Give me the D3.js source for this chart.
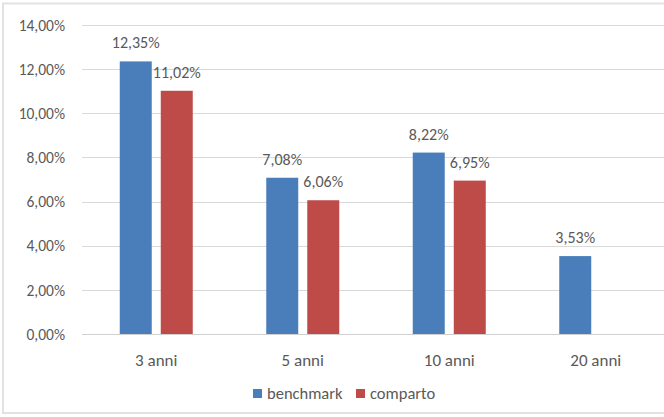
<!DOCTYPE html>
<html>
<head>
<meta charset="utf-8">
<script src="https://cdn.jsdelivr.net/npm/d3@7"></script>
<style>
  html, body { margin: 0; padding: 0; background: #fff; }
  svg { display: block; }
  text { font-family: Carlito, Lato, "Liberation Sans", sans-serif; fill: #595959; }
</style>
</head>
<body>
<svg id="chart" width="664" height="417"></svg>
<script>
const categories = ["3 anni", "5 anni", "10 anni", "20 anni"];
const seriesNames = ["benchmark", "comparto"];
const benchmarkValues = [12.35, 7.08, 8.22, 3.53];
const compartoValues = [11.02, 6.06, 6.95, null];
const yTickValues = [0, 2, 4, 6, 8, 10, 12, 14];
const seriesColors = ["#4a7ebb", "#be4b48"];

const fmt = v => v.toFixed(2).replace(".", ",") + "%";
const FONT = "Carlito, Lato, 'Liberation Sans', sans-serif";

const svg = d3.select("#chart");
const W = 664, H = 417;

svg.append("rect").attr("x", 0).attr("y", 0).attr("width", W).attr("height", H).attr("fill", "#fff");
// chart frame
svg.append("rect").attr("x", 3).attr("y", 3.5).attr("width", 720).attr("height", 409.5)
  .attr("fill", "none").attr("stroke", "#e2e2e2").attr("stroke-width", 2);

const x0 = d3.scaleBand().domain(categories).range([83, 669]).paddingInner(0).paddingOuter(0);
const x1 = d3.scaleBand().domain(seriesNames).range([0, x0.bandwidth()]).paddingInner(0.22).paddingOuter(0.896);
const y = d3.scaleLinear().domain([0, 14]).range([334, 25]);
const color = d3.scaleOrdinal().domain(seriesNames).range(seriesColors);

// y axis with gridlines
const yAxis = d3.axisLeft(y).tickValues(yTickValues).tickFormat(fmt).tickSize(0).tickPadding(0);
const yg = svg.append("g").attr("transform", "translate(65,0)").call(yAxis);
yg.select(".domain").remove();
yg.selectAll("text").attr("font-size", 15.5).attr("fill", "#595959").attr("x", 0).attr("dy", "0.34em")
  .style("font-family", FONT);

const grid = svg.append("g");
grid.selectAll("line").data(yTickValues.filter(d => d > 0)).enter().append("line")
  .attr("x1", 82).attr("x2", 670)
  .attr("y1", d => Math.round(y(d)) + 0.5).attr("y2", d => Math.round(y(d)) + 0.5)
  .attr("stroke", "#d9d9d9").attr("stroke-width", 1);

// bars
const rows = categories.map((c, i) => ({
  cat: c,
  vals: [{ s: "benchmark", v: benchmarkValues[i] }, { s: "comparto", v: compartoValues[i] }]
}));

const groups = svg.append("g").selectAll("g").data(rows).enter().append("g")
  .attr("transform", d => `translate(${x0(d.cat)},0)`);

groups.selectAll("rect").data(d => d.vals.filter(e => e.v != null)).enter().append("rect")
  .attr("x", d => x1(d.s))
  .attr("width", x1.bandwidth())
  .attr("y", d => y(d.v))
  .attr("height", d => y(0) - y(d.v))
  .attr("fill", d => color(d.s));

groups.selectAll("text.lbl").data(d => d.vals.filter(e => e.v != null)).enter().append("text")
  .attr("class", "lbl")
  .attr("x", d => x1(d.s) + x1.bandwidth() / 2)
  .attr("y", d => y(d.v) - 13)
  .attr("text-anchor", "middle")
  .attr("font-size", 16)
  .text(d => fmt(d.v));

// x axis line
svg.append("line").attr("x1", 82).attr("x2", 670).attr("y1", 334.5).attr("y2", 334.5)
  .attr("stroke", "#d0d0d0").attr("stroke-width", 1);

// x axis labels
const xAxis = d3.axisBottom(x0).tickSize(0).tickPadding(0);
const xg = svg.append("g").attr("transform", "translate(0,366)").call(xAxis);
xg.select(".domain").remove();
xg.selectAll("text").attr("font-size", 17).attr("fill", "#595959").attr("dy", 0)
  .style("font-family", FONT);

// legend
const legendItems = [
  { s: "benchmark", x: 253 },
  { s: "comparto", x: 356 }
];
const lg = svg.append("g");
legendItems.forEach(it => {
  lg.append("rect").attr("x", it.x).attr("y", 389).attr("width", 9).attr("height", 9).attr("fill", color(it.s));
  lg.append("text").attr("x", it.x + 14).attr("y", 399).attr("font-size", 16.5).text(it.s);
});
</script>
</body>
</html>
